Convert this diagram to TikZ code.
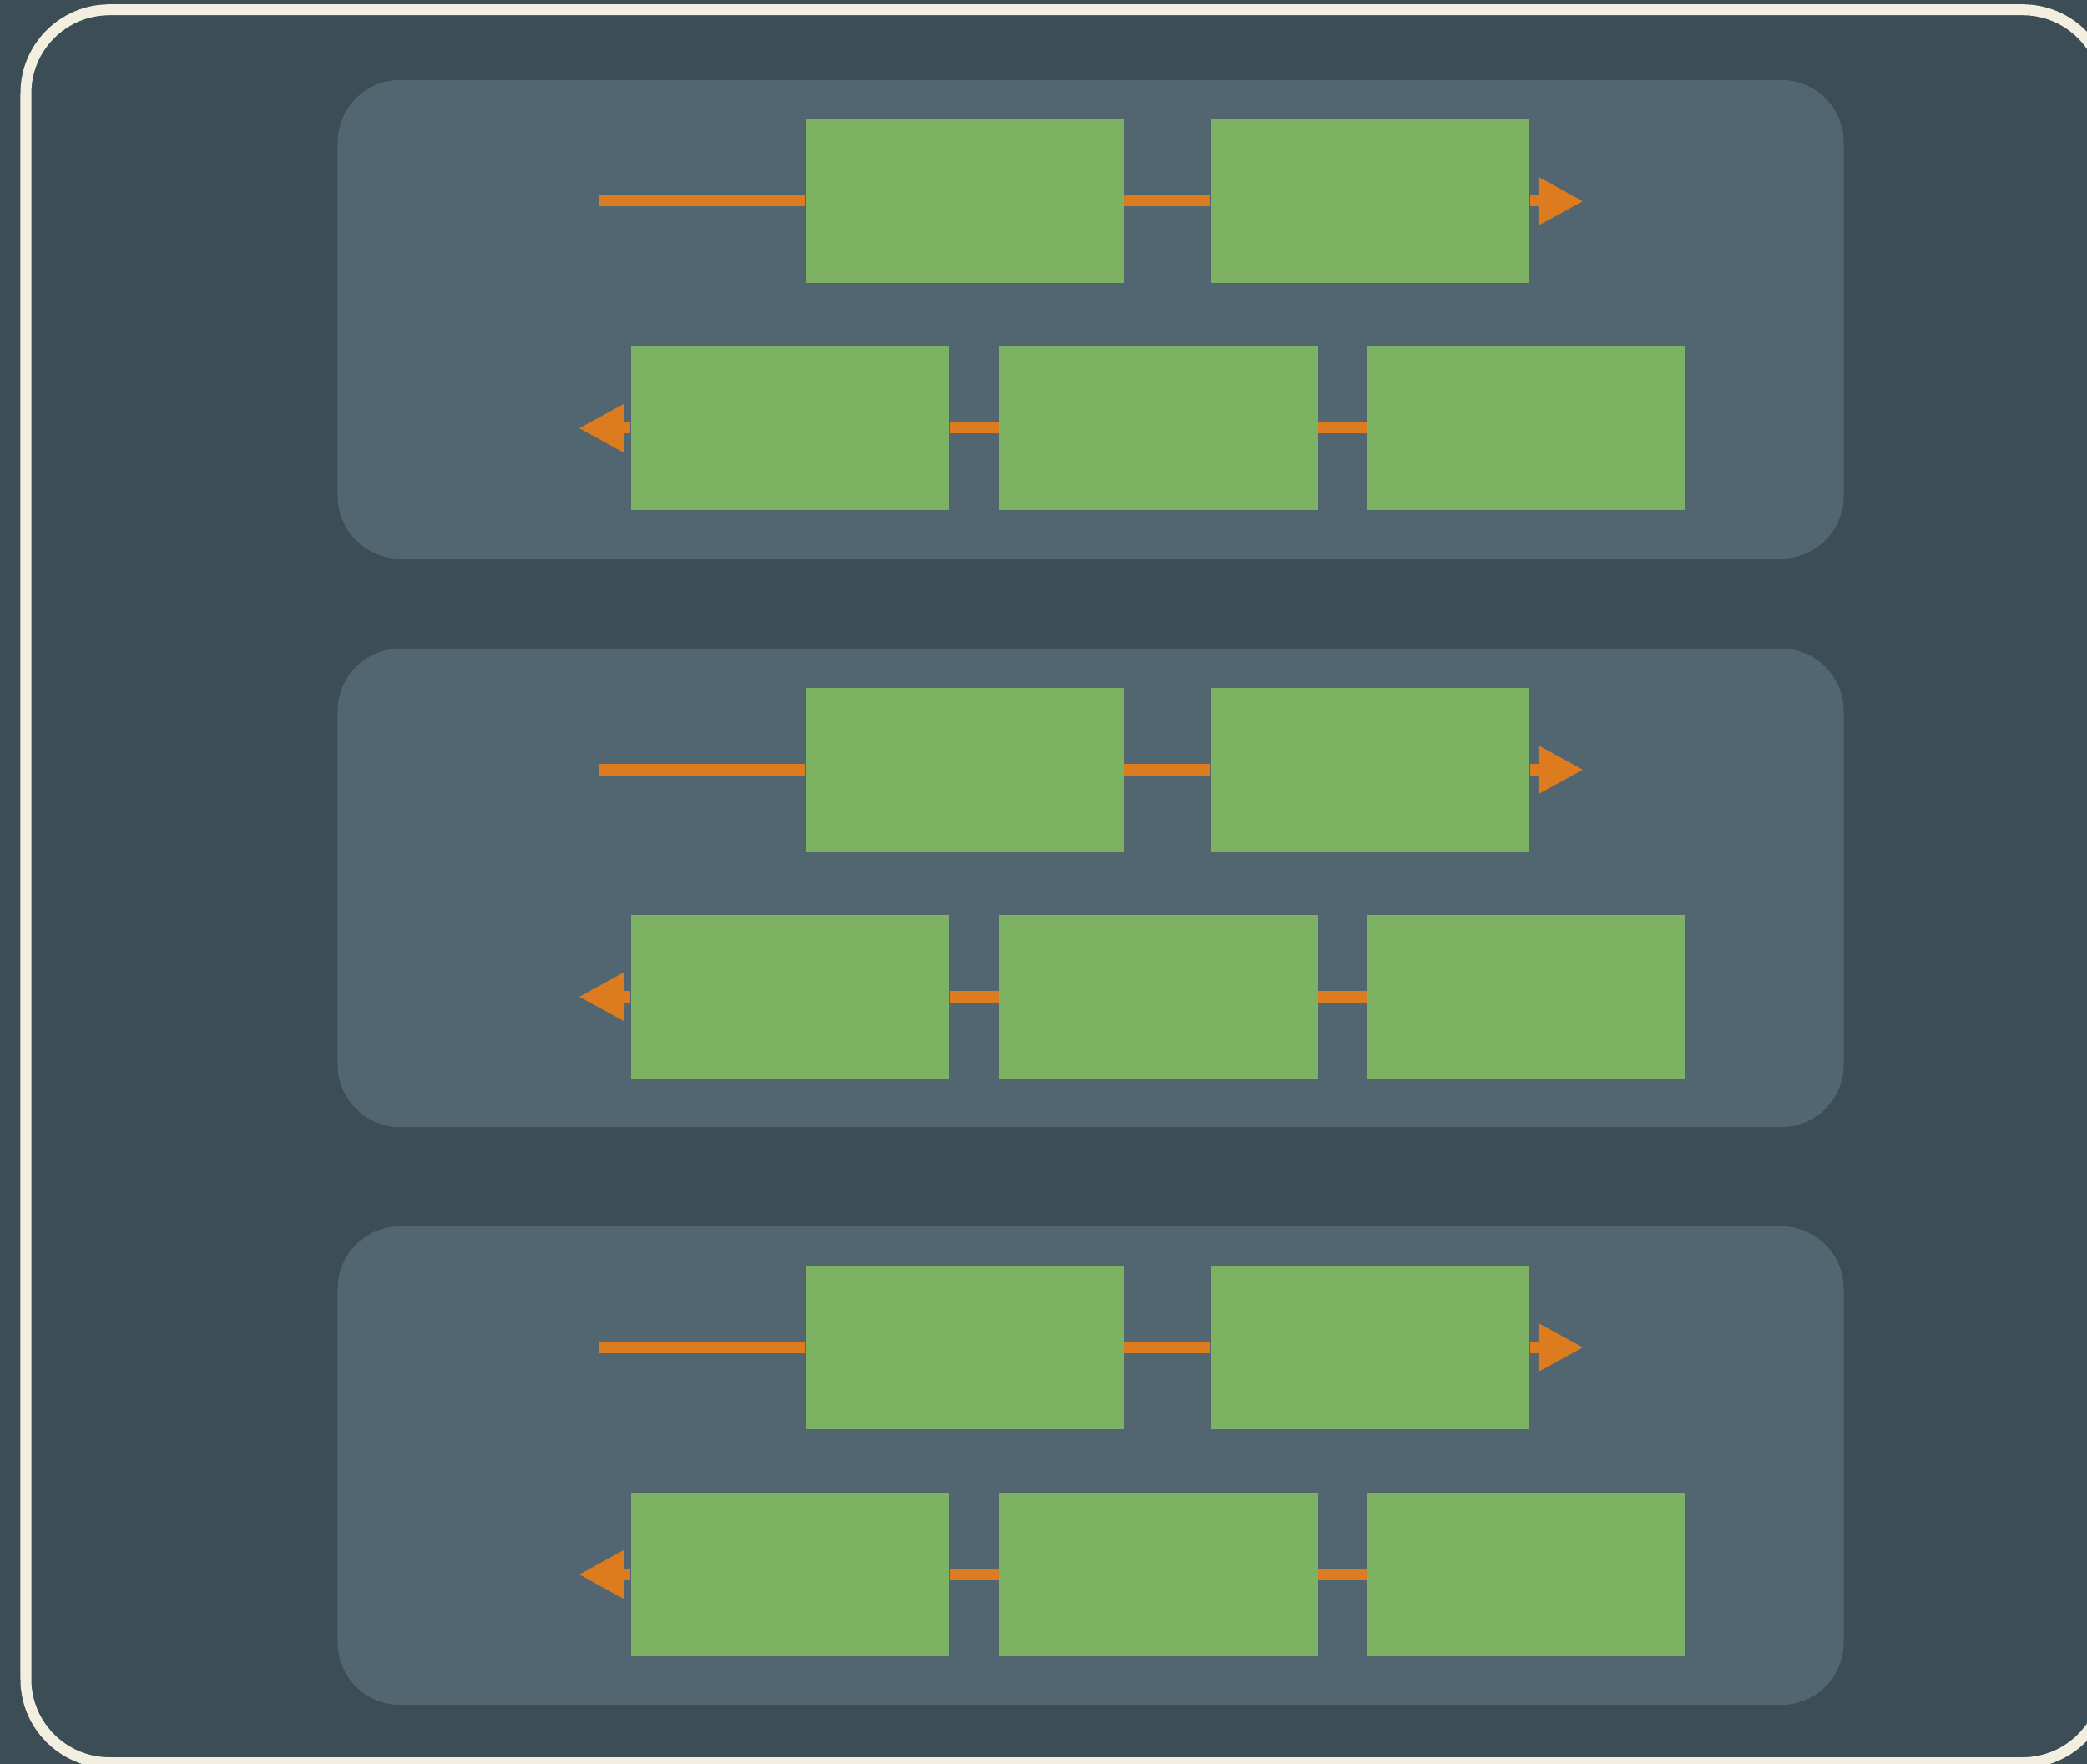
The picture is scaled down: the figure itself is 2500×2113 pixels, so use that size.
\documentclass[tikz,border=0pt]{standalone}
\usetikzlibrary{arrows.meta}
\definecolor{bgdark}{HTML}{3C4D56}
\definecolor{panelc}{HTML}{516671}
\definecolor{boxgreen}{HTML}{7CB262}
\definecolor{linkorange}{HTML}{DC7C1E}
\definecolor{framecream}{HTML}{F2EFE0}
\tikzset{
  panelbox/.style={rectangle, rounded corners=0.75cm, fill=panelc, minimum width=18.03cm, minimum height=5.73cm, inner sep=0pt},
  greenbox/.style={rectangle, fill=boxgreen, minimum width=3.81cm, minimum height=1.96cm, inner sep=0pt},
  link/.style={draw=linkorange, line width=0.13cm},
  linkarrow/.style={link, -{Triangle[length=0.54cm,width=0.54cm]}},
  outerframe/.style={draw=framecream, line width=0.13cm, rounded corners=1cm}
}
\begin{document}
\begin{tikzpicture}[x=0.01cm, y=-0.01cm]
\clip (0,0) rectangle (2500,2113);
\fill[bgdark] (0,0) rectangle (2500,2113);
\draw[outerframe] (31,11.7) rectangle (2523,2111.5);
\foreach \T/\n in {96/1,777/2,1469/3}{
  \node[panelbox] (p\n) at (1306.5,{\T+286.5}) {};
  \node[greenbox] (ta\n) at (1155.5,{\T+145}) {};
  \node[greenbox] (tb\n) at (1641.5,{\T+145}) {};
  \node[greenbox] (ba\n) at (946.5,{\T+417}) {};
  \node[greenbox] (bb\n) at (1388,{\T+417}) {};
  \node[greenbox] (bc\n) at (1828.5,{\T+417}) {};
  \coordinate (ts\n) at (716.5,{\T+145});
  \coordinate (te\n) at (1897,{\T+145});
  \coordinate (be\n) at (693,{\T+417});
  \draw[link] (ts\n) -- (ta\n.west);
  \draw[link] (ta\n.east) -- (tb\n.west);
  \draw[linkarrow] (tb\n.east) -- (te\n);
  \draw[link] (bc\n.west) -- (bb\n.east);
  \draw[link] (bb\n.west) -- (ba\n.east);
  \draw[linkarrow] (ba\n.west) -- (be\n);
}
\end{tikzpicture}
\end{document}
